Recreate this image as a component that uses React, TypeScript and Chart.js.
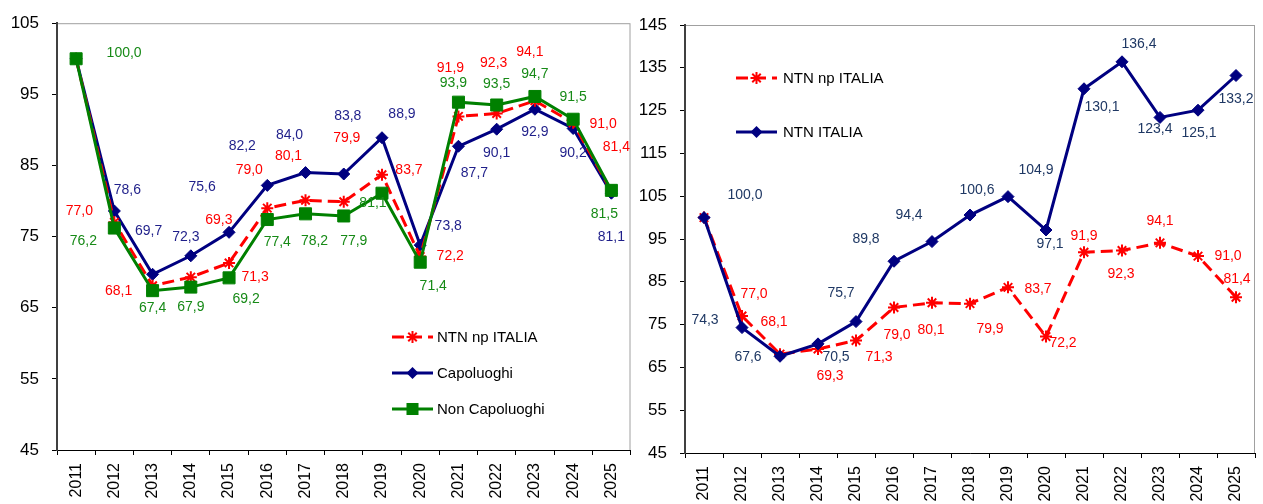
import React, { useEffect, useRef } from "react";
import { Chart, registerables } from "chart.js";

Chart.register(...registerables);

// ---- data ----
const years = ["2011", "2012", "2013", "2014", "2015", "2016", "2017", "2018", "2019", "2020", "2021", "2022", "2023", "2024", "2025"];
const ntnNpItalia = [100.0, 77.0, 68.1, 69.3, 71.3, 79.0, 80.1, 79.9, 83.7, 72.2, 91.9, 92.3, 94.1, 91.0, 81.4];
const capoluoghi = [100.0, 78.6, 69.7, 72.3, 75.6, 82.2, 84.0, 83.8, 88.9, 73.8, 87.7, 90.1, 92.9, 90.2, 81.1];
const nonCapoluoghi = [100.0, 76.2, 67.4, 67.9, 69.2, 77.4, 78.2, 77.9, 81.1, 71.4, 93.9, 93.5, 94.7, 91.5, 81.5];
const ntnItalia = [100.0, 74.3, 67.6, 70.5, 75.7, 89.8, 94.4, 100.6, 104.9, 97.1, 130.1, 136.4, 123.4, 125.1, 133.2];
const leftTicks = [45, 55, 65, 75, 85, 95, 105];
const rightTicks = [45, 55, 65, 75, 85, 95, 105, 115, 125, 135, 145];

// ---- label placement (pixel offsets from each point; null = no label) ----
type Off = [number, number] | null;
const capLabelPos: Off[] = [null, [13, -21], [-4, -43], [-5, -19], [-27, -45], [-25, -39], [-16, -37], [4, -58], [20, -24], [28, -19], [16, 27], [0, 24], [0, 23], [0, 25], [0, 44]];
const npLeftLabelPos: Off[] = [null, [-35, -11], [-34, 5], [28, -57], [26, 14], [-18, -38], [-17, -44], [3, -64], [27, -5], [30, 0], [-8, -48], [-3, -50], [-5, -49], [30, 1], [5, -44]];
const nonCapLabelPos: Off[] = [[48, -6], [-31, 13], [0, 17], [0, 20], [17, 21], [10, 23], [9, 27], [10, 25], [-9, 10], [13, 24], [-5, -19], [0, -21], [0, -22], [0, -22], [-7, 24]];
const italiaLabelPos: Off[] = [[41, -22], [-37, -7], [-32, 1], [18, 13], [-15, -28], [-28, -22], [-23, -26], [7, -25], [28, -26], [4, 14], [18, 18], [17, -18], [-5, 12], [1, 23], [0, 24]];
const npRightLabelPos: Off[] = [null, [12, -22], [-6, -32], [12, 27], [23, 17], [3, 28], [-1, 27], [20, 26], [30, 2], [17, 7], [0, -16], [-1, 24], [0, -22], [30, 0], [1, -18]];

const SANS = "'Liberation Sans', Arial, sans-serif";
const RED = "#FF0000";
const NAVY = "#000080";
const GREEN = "#008000";

const fmt = (v: number) => v.toFixed(1).replace(".", ",");

// ---- marker drawing shared by the inside legend ----
function drawMarker(ctx: CanvasRenderingContext2D, style: string, x: number, y: number, r: number, color: string) {
  ctx.save();
  ctx.fillStyle = color;
  ctx.strokeStyle = color;
  ctx.setLineDash([]);
  if (style === "rect") {
    const s = r * Math.SQRT2;
    ctx.fillRect(x - s / 2, y - s / 2, s, s);
  } else if (style === "rectRot") {
    ctx.beginPath();
    ctx.moveTo(x, y - r);
    ctx.lineTo(x + r, y);
    ctx.lineTo(x, y + r);
    ctx.lineTo(x - r, y);
    ctx.closePath();
    ctx.fill();
  } else if (style === "star") {
    ctx.lineWidth = 2;
    ctx.beginPath();
    for (let k = 0; k < 4; k++) {
      const a = (k * Math.PI) / 4;
      ctx.moveTo(x - r * Math.cos(a), y - r * Math.sin(a));
      ctx.lineTo(x + r * Math.cos(a), y + r * Math.sin(a));
    }
    ctx.stroke();
  }
  ctx.restore();
}

// white background + light frame around the plot area
const framePlugin = {
  id: "frame",
  beforeDraw(chart: any) {
    const { ctx, chartArea: a } = chart;
    ctx.save();
    ctx.fillStyle = "#fff";
    ctx.fillRect(0, 0, chart.width, chart.height);
    ctx.strokeStyle = "#a0a0a0";
    ctx.lineWidth = 1;
    ctx.strokeRect(a.left + 0.5, a.top + 0.5, a.right - a.left - 1, a.bottom - a.top);
    ctx.restore();
  },
};

// value labels next to each point
const valueLabelPlugin = {
  id: "valueLabels",
  afterDatasetsDraw(chart: any) {
    const { ctx } = chart;
    ctx.save();
    ctx.font = `14px ${SANS}`;
    ctx.textAlign = "center";
    ctx.textBaseline = "middle";
    chart.data.datasets.forEach((ds: any, i: number) => {
      const meta = chart.getDatasetMeta(i);
      ds.data.forEach((v: number, j: number) => {
        const off = ds.labelPos?.[j];
        if (!off) return;
        const p = meta.data[j];
        ctx.fillStyle = ds.labelColor;
        ctx.fillText(fmt(v), p.x + off[0], p.y + off[1]);
      });
    });
    ctx.restore();
  },
};

// legend drawn inside the plot area
const insideLegendPlugin = {
  id: "insideLegend",
  afterDraw(chart: any, _args: any, opts: any) {
    if (!opts || !opts.items) return;
    const { ctx } = chart;
    opts.items.forEach((it: any) => {
      const ds = chart.data.datasets[it.dataset];
      ctx.save();
      ctx.strokeStyle = ds.borderColor;
      ctx.lineWidth = ds.borderWidth;
      ctx.setLineDash(ds.borderDash || []);
      ctx.beginPath();
      ctx.moveTo(opts.x0, it.y);
      ctx.lineTo(opts.x1, it.y);
      ctx.stroke();
      ctx.restore();
      drawMarker(ctx, ds.pointStyle, (opts.x0 + opts.x1) / 2, it.y, ds.pointRadius, ds.pointBorderColor);
      ctx.save();
      ctx.fillStyle = "#000";
      ctx.font = `15px ${SANS}`;
      ctx.textAlign = "left";
      ctx.textBaseline = "middle";
      ctx.fillText(ds.label, opts.tx, it.y + 1);
      ctx.restore();
    });
  },
};

function makeDataset(label: string, data: number[], kind: "np" | "blue" | "green", labelPos: Off[], labelColor: string, order: number) {
  const base: any = { label, data, labelPos, labelColor, order, fill: false, tension: 0, borderWidth: 3 };
  if (kind === "np") {
    return { ...base, borderColor: RED, borderDash: [12, 6], pointStyle: "star", pointRadius: 6, pointBorderColor: RED, pointBackgroundColor: RED, pointBorderWidth: 2 };
  }
  if (kind === "blue") {
    return { ...base, borderColor: NAVY, pointStyle: "rectRot", pointRadius: 6, pointBorderColor: NAVY, pointBackgroundColor: NAVY, pointBorderWidth: 1 };
  }
  return { ...base, borderColor: GREEN, pointStyle: "rect", pointRadius: 8.5, pointBorderColor: GREEN, pointBackgroundColor: GREEN, pointBorderWidth: 1 };
}

function makeOptions(ticks: number[], yWidth: number, xHeight: number, padTop: number, padRight: number, legend: any) {
  return {
    responsive: false,
    maintainAspectRatio: false,
    animation: false as const,
    devicePixelRatio: 1,
    layout: { padding: { top: padTop, right: padRight, left: 0, bottom: 0 } },
    plugins: { legend: { display: false }, tooltip: { enabled: false }, insideLegend: legend },
    scales: {
      x: {
        type: "category" as const,
        offset: true,
        grid: { offset: true, drawOnChartArea: false, drawTicks: true, tickLength: 5, color: "#000" },
        border: { display: true, color: "#000", width: 1 },
        ticks: { minRotation: 90, maxRotation: 90, autoSkip: false, padding: 8, color: "#000", font: { family: SANS, size: 16 } },
        afterFit: (s: any) => {
          s.height = xHeight;
          s.paddingLeft = 0;
          s.paddingRight = 0;
        },
      },
      y: {
        min: ticks[0],
        max: ticks[ticks.length - 1],
        grid: { drawOnChartArea: false, drawTicks: true, tickLength: 5, color: "#000" },
        border: { display: true, color: "#404040", width: 2 },
        ticks: { padding: 13, color: "#000", font: { family: SANS, size: 17 }, callback: (v: any) => String(v) },
        afterFit: (s: any) => { s.width = yWidth; },
        afterBuildTicks: (s: any) => { s.ticks = ticks.map((value) => ({ value })); },
      },
    },
  };
}

function ChartCanvas({ build, left, width, height }: { build: () => any; left: number; width: number; height: number }) {
  const ref = useRef<HTMLCanvasElement>(null);
  useEffect(() => {
    const chart = new Chart(ref.current as HTMLCanvasElement, build());
    return () => chart.destroy();
  }, []);
  return <canvas ref={ref} width={width} height={height} style={{ position: "absolute", left, top: 0, width, height }} />;
}

const buildLeft = () => ({
  type: "line" as const,
  data: {
    labels: years,
    datasets: [
      makeDataset("NTN np ITALIA", ntnNpItalia, "np", npLeftLabelPos, RED, 1),
      makeDataset("Capoluoghi", capoluoghi, "blue", capLabelPos, "#1F1F8A", 2),
      makeDataset("Non Capoluoghi", nonCapoluoghi, "green", nonCapLabelPos, "#178A17", 0),
    ],
  },
  options: makeOptions(leftTicks, 57, 54, 22, 3, {
    x0: 392, x1: 433, tx: 437,
    items: [{ dataset: 0, y: 337 }, { dataset: 1, y: 373 }, { dataset: 2, y: 409 }],
  }),
  plugins: [framePlugin, valueLabelPlugin, insideLegendPlugin],
});

const buildRight = () => ({
  type: "line" as const,
  data: {
    labels: years,
    datasets: [
      makeDataset("NTN np ITALIA", ntnNpItalia, "np", npRightLabelPos, RED, 1),
      makeDataset("NTN ITALIA", ntnItalia, "blue", italiaLabelPos, "#1F3864", 0),
    ],
  },
  options: makeOptions(rightTicks, 45, 51, 25, 8, {
    x0: 96, x1: 137, tx: 143,
    items: [{ dataset: 0, y: 78 }, { dataset: 1, y: 132 }],
  }),
  plugins: [framePlugin, valueLabelPlugin, insideLegendPlugin],
});

export default function App() {
  return (
    <div style={{ position: "absolute", left: 0, top: 0, width: 1263, height: 504, background: "#fff", overflow: "hidden" }}>
      <ChartCanvas build={buildLeft} left={0} width={640} height={504} />
      <ChartCanvas build={buildRight} left={640} width={623} height={504} />
    </div>
  );
}
